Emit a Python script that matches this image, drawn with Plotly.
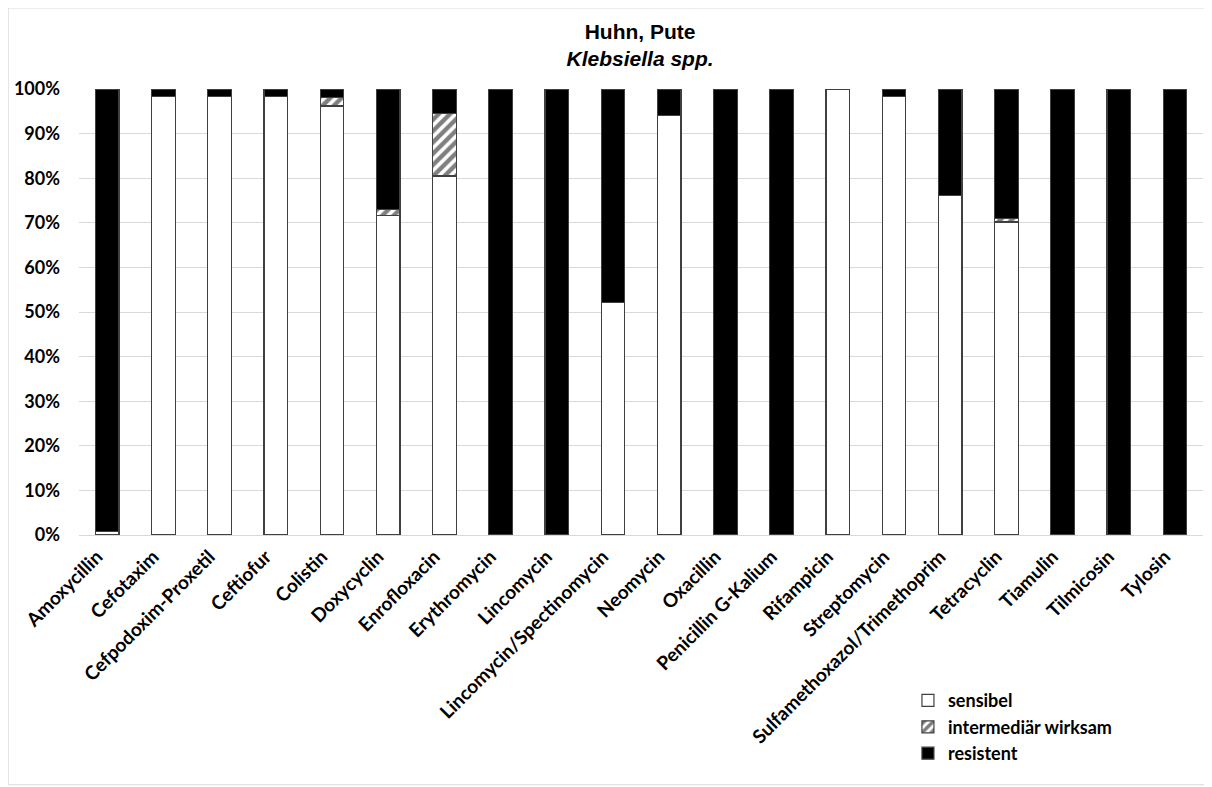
import plotly.graph_objects as go

categories = ["Amoxycillin", "Cefotaxim", "Cefpodoxim-Proxetil", "Ceftiofur", "Colistin",
              "Doxycyclin", "Enrofloxacin", "Erythromycin", "Lincomycin",
              "Lincomycin/Spectinomycin", "Neomycin", "Oxacillin", "Penicillin G-Kalium",
              "Rifampicin", "Streptomycin", "Sulfamethoxazol/Trimethoprim", "Tetracyclin",
              "Tiamulin", "Tilmicosin", "Tylosin"]
sensibel = [0.7, 98.4, 98.4, 98.4, 96.2, 71.6, 80.5, 0, 0, 52.1, 94.0, 0, 0, 100, 98.4, 76.1, 70.2, 0, 0, 0]
intermediaer = [0, 0, 0, 0, 1.9, 1.4, 14.0, 0, 0, 0, 0, 0, 0, 0, 0, 0, 0.7, 0, 0, 0]
resistent = [99.3, 1.6, 1.6, 1.6, 1.9, 27.0, 5.5, 100, 100, 47.9, 6.0, 100, 100, 0, 1.6, 23.9, 29.1, 100, 100, 100]

FONT = "Lato"
fig = go.Figure()
fig.add_trace(go.Bar(x=categories, y=sensibel, name="sensibel",
                     marker=dict(color="white", line=dict(color="#404040", width=1.2)),
                     width=0.42))
fig.add_trace(go.Bar(x=categories, y=intermediaer, name="intermediär wirksam",
                     marker=dict(color="white", line=dict(color="#404040", width=1.2),
                                 pattern=dict(shape="/", fgcolor="black", bgcolor="white",
                                              size=8, solidity=0.55)),
                     width=0.42))
fig.add_trace(go.Bar(x=categories, y=resistent, name="resistent",
                     marker=dict(color="black", line=dict(color="#404040", width=1.2)),
                     width=0.42))

fig.update_layout(
    barmode="stack",
    width=1204, height=779,
    paper_bgcolor="white", plot_bgcolor="white",
    margin=dict(l=71, r=9, t=81, b=252),
    font=dict(family=FONT, size=18, color="black"),
    title=dict(text="<b>Huhn, Pute</b><br><b><i>Klebsiella spp.</i></b>",
               x=0.525, xanchor="center", y=0.96, yanchor="top",
               font=dict(family="Liberation Sans", size=21, color="black")),
    showlegend=True,
    legend=dict(x=0.7375, y=-0.33, xanchor="left", yanchor="top",
                traceorder="normal", bgcolor="rgba(0,0,0,0)",
                font=dict(family=FONT, size=18, color="black", weight="bold"),
                itemwidth=30, tracegroupgap=0),
    bargap=0.58,
)
fig.update_xaxes(tickangle=-45, showgrid=False, showline=False, automargin=False,
                 ticklabelstandoff=6, ticklabelshift=-10,
                 tickfont=dict(family=FONT, size=19, color="black", weight="bold"))
fig.update_yaxes(range=[0, 100], dtick=10, ticksuffix="%", automargin=False,
                 showgrid=True, gridcolor="#d9d9d9", gridwidth=1,
                 zeroline=True, zerolinecolor="#d9d9d9", zerolinewidth=1,
                 ticklabelstandoff=18,
                 tickfont=dict(family=FONT, size=18, color="black", weight="bold"))
fig.add_shape(type="rect", xref="paper", yref="paper",
              x0=-0.063, x1=1.0036, y0=-0.56, y1=1.1816,
              line=dict(color="#d9d9d9", width=1), fillcolor="rgba(0,0,0,0)", layer="below")

fig.write_html("out.html")
